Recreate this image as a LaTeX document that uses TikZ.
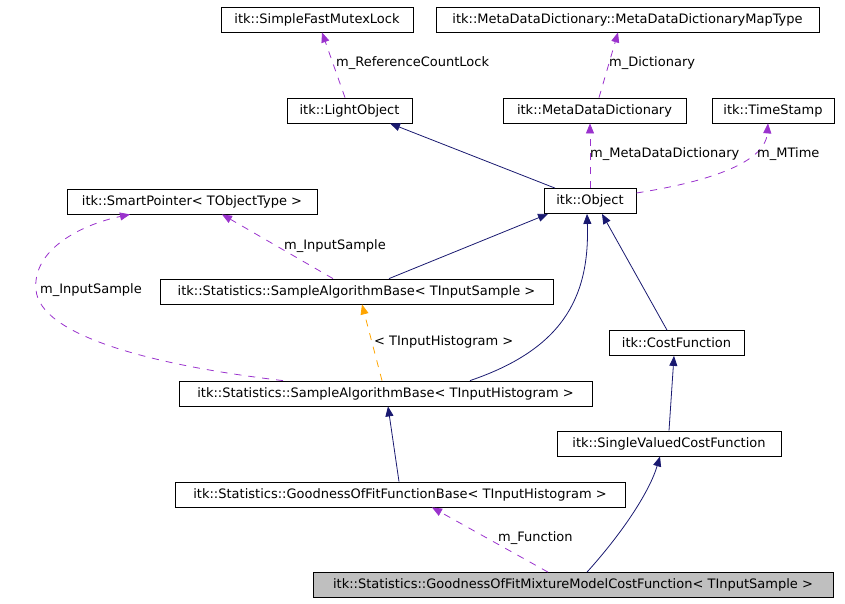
\documentclass[tikz,border=0pt]{standalone}
\usepackage{fontspec}
\setmainfont{DejaVu Sans}
\usetikzlibrary{arrows.meta}
\definecolor{inhc}{HTML}{191970}
\definecolor{usec}{HTML}{9A32CD}
\definecolor{tplc}{HTML}{FFA500}
\definecolor{curc}{HTML}{BFBFBF}
\begin{document}
\begin{tikzpicture}[x=1pt,y=-1pt,
  box/.style={draw=black,line width=0.8pt,inner sep=0pt,minimum height=25pt,font=\fontsize{13}{15}\selectfont},
  lbl/.style={inner sep=0pt,font=\fontsize{13}{15}\selectfont,anchor=west},
  inhe/.style={draw=inhc,line width=0.8pt,-{Triangle[length=10pt,width=8pt]}},
  usee/.style={draw=usec,line width=0.8pt,dash pattern=on 7pt off 7pt,-{Triangle[length=10pt,width=8pt]}},
  tple/.style={draw=tplc,line width=0.8pt,dash pattern=on 7pt off 7pt,-{Triangle[length=10pt,width=8pt]}}]
\useasboundingbox (0,0) rectangle (845,603);
% nodes
\node[box,minimum width=192pt] (sfml) at (317,19.5) {itk::SimpleFastMutexLock};
\node[box,minimum width=383pt] (mapt) at (627.5,19.5) {itk::MetaDataDictionary::MetaDataDictionaryMapType};
\node[box,minimum width=125pt] (lo) at (349.5,110.5) {itk::LightObject};
\node[box,minimum width=183pt] (mdd) at (594.5,110.5) {itk::MetaDataDictionary};
\node[box,minimum width=122pt] (ts) at (773,110.5) {itk::TimeStamp};
\node[box,minimum width=250pt] (sp) at (192,201.5) {itk::SmartPointer< TObjectType >};
\node[box,minimum width=92pt] (obj) at (590,201) {itk::Object};
\node[box,minimum width=393pt] (sab1) at (356.5,291.5) {itk::Statistics::SampleAlgorithmBase< TInputSample >};
\node[box,minimum width=135pt] (cf) at (676.5,343) {itk::CostFunction};
\node[box,minimum width=413pt] (sab2) at (385.5,393.5) {itk::Statistics::SampleAlgorithmBase< TInputHistogram >};
\node[box,minimum width=224pt] (svcf) at (669,443.5) {itk::SingleValuedCostFunction};
\node[box,minimum width=450pt] (goffb) at (400,494.5) {itk::Statistics::GoodnessOfFitFunctionBase< TInputHistogram >};
\node[box,minimum width=520pt,fill=curc] (gofmm) at (573,585) {itk::Statistics::GoodnessOfFitMixtureModelCostFunction< TInputSample >};
% connectors
\draw[usee] ([xshift=-4.5pt]lo.north) -- ([xshift=5pt]sfml.south);
\draw[usee] ([xshift=4.5pt]mdd.north) -- ([xshift=-9.5pt]mapt.south);
\draw[inhe] ([xshift=-35pt]obj.north) -- ([xshift=40.5pt]lo.south);
\draw[usee] (obj.north) -- ([xshift=-4.5pt]mdd.south);
\draw[usee] ([yshift=8pt]obj.east) .. controls (700,183) and (765,165) .. ([xshift=-5pt]ts.south);
\draw[inhe] ([xshift=32.5pt]sab1.north) -- ([xshift=-42pt]obj.south);
\draw[usee] ([xshift=-23.5pt]sab1.north) -- ([xshift=30pt]sp.south);
\draw[tple] ([xshift=-3.5pt]sab2.north) -- ([xshift=5.5pt]sab1.south);
\draw[usee] ([xshift=-102.5pt]sab2.north) .. controls (150,365) and (40,335) .. (36,290) .. controls (32,250) and (80,225) .. ([xshift=-62pt]sp.south);
\draw[inhe] ([xshift=84.5pt]sab2.north) .. controls (560,350) and (590,300) .. ([xshift=-3pt]obj.south);
\draw[inhe] ([xshift=-9.5pt]cf.north) -- ([xshift=12pt]obj.south);
\draw[inhe] (svcf.north) -- ([xshift=-2.5pt]cf.south);
\draw[inhe] ([xshift=-1pt]goffb.north) -- ([xshift=2.5pt]sab2.south);
\draw[usee] ([xshift=-25pt]gofmm.north) -- ([xshift=32pt]goffb.south);
\draw[inhe] ([xshift=14pt]gofmm.north) .. controls (625,530) and (650,490) .. ([xshift=-9pt]svcf.south);
% labels
\node[lbl] (l1) at (336,63) {m\_ReferenceCountLock};
\node[lbl] (l2) at (609,63) {m\_Dictionary};
\node[lbl] (l3) at (590,154) {m\_MetaDataDictionary};
\node[lbl] (l4) at (757,154) {m\_MTime};
\node[lbl] (l5) at (284,246) {m\_InputSample};
\node[lbl] (l6) at (40,290) {m\_InputSample};
\node[lbl] (l7) at (374,342) {< TInputHistogram >};
\node[lbl] (l8) at (498,538) {m\_Function};
\end{tikzpicture}
\end{document}
